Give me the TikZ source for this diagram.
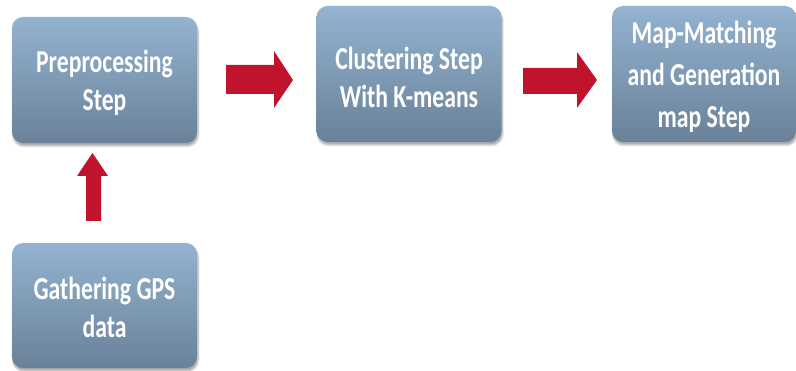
\documentclass[tikz,border=0pt]{standalone}
\usepackage{fontspec}
\setmainfont{Carlito}[FakeStretch=0.74]
\usetikzlibrary{shadows.blur}
\definecolor{boxtop}{HTML}{93B3D0}
\definecolor{boxbot}{HTML}{6A8199}
\definecolor{arrowred}{HTML}{C0142C}
\tikzset{
  stepbox/.style={rounded corners=11pt, top color=boxtop, bottom color=boxbot,
    draw=none, minimum width=185pt, inner sep=0pt,
    blur shadow={shadow xshift=1pt, shadow yshift=-3pt, shadow blur steps=6, shadow opacity=35}},
  steplabel/.style={text=white, align=center, yshift=-3pt,
    font=\bfseries\fontsize{32}{38}\selectfont},
  blockarrow/.style={fill=arrowred, draw=none}
}
\begin{document}
\begin{tikzpicture}[x=1pt, y=-1pt]
\useasboundingbox (0,0) rectangle (796,371);
\node[stepbox, minimum height=126pt,
      label={[steplabel]center:Preprocessing\\Step}] (pre) at (104.5,80) {};
\node[stepbox, minimum height=136pt,
      label={[steplabel]center:Clustering Step\\With K-means}] (clu) at (409,74) {};
\node[stepbox, minimum height=136pt, minimum width=184pt,
      label={[steplabel, font=\bfseries\fontsize{32}{42}\selectfont]center:Map-Matching\\and Generation\\map Step}] (map) at (704,74) {};
\node[stepbox, minimum height=125pt,
      label={[steplabel, yshift=1pt]center:Gathering GPS\\data}] (gps) at (104.5,305.5) {};
% block arrows between the steps
\fill[blockarrow] (226,65) -- (274,65) -- (274,51) -- (293,80) -- (274,108) -- (274,94) -- (226,94) -- cycle;
\fill[blockarrow] (523,68) -- (577,68) -- (577,52) -- (597,80) -- (577,108) -- (577,94) -- (523,94) -- cycle;
\fill[blockarrow] (86,221) -- (86,176) -- (77,176) -- (92.5,153) -- (108,176) -- (101,176) -- (101,221) -- cycle;
\end{tikzpicture}
\end{document}
